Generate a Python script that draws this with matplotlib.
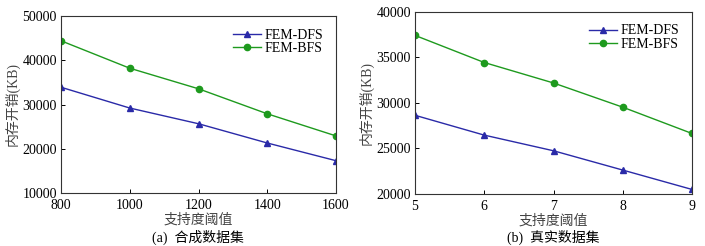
import matplotlib
matplotlib.use('Agg')
import matplotlib.pyplot as plt

# Données
x_a = [800, 1000, 1200, 1400, 1600]
dfs_a = [33900, 29200, 25650, 21300, 17300]
bfs_a = [44400, 38200, 33550, 27900, 22900]

x_b = [5, 6, 7, 8, 9]
dfs_b = [28650, 26470, 24750, 22630, 20500]
bfs_b = [37430, 34450, 32200, 29540, 26650]

fam = ['Liberation Serif', 'Noto Sans CJK SC']
plt.rcParams['font.family'] = fam
plt.rcParams['font.size'] = 10

blue = '#2a2aa8'
green = '#1e9a1e'

fig = plt.figure(figsize=(7.05, 2.46), dpi=100)
ax1 = fig.add_axes([61/705, 53/246, 275/705, 177/246])
ax2 = fig.add_axes([415/705, 52/246, 277/705, 182/246])

def draw(ax, x, dfs, bfs, ylim, yticks, caption, cx):
    ax.plot(x, dfs, color=blue, marker='^', markersize=4.5, linewidth=1, label='FEM-DFS')
    ax.plot(x, bfs, color=green, marker='o', markersize=4.5, linewidth=1, label='FEM-BFS')
    ax.set_xlim(x[0], x[-1])
    ax.set_xticks(x)
    ax.set_ylim(*ylim)
    ax.set_yticks(yticks)
    ax.tick_params(direction='in', length=3, width=0.7, labelsize=10)
    ax.tick_params(axis='x', pad=4)
    ax.tick_params(axis='y', pad=3)
    for s in ax.spines.values():
        s.set_linewidth(0.8)
        s.set_color('#333333')
    ax.set_ylabel('内存开销(KB)', fontsize=10, color='#444444', labelpad=2)
    ax.set_xlabel('支持度阈值', fontsize=10, color='#444444', labelpad=1)
    ax.legend(loc='upper right', frameon=False, fontsize=10, handlelength=2,
              handletextpad=0.3, labelspacing=0.05, borderaxespad=0.5)
    fig.text(cx, 9/246, caption, ha='center', va='center', fontsize=10)

draw(ax1, x_a, dfs_a, bfs_a, (10000, 50000), [10000, 20000, 30000, 40000, 50000],
     '(a)  合成数据集', 198/705)
draw(ax2, x_b, dfs_b, bfs_b, (20000, 40000), [20000, 25000, 30000, 35000, 40000],
     '(b)  真实数据集', 553/705)

fig.savefig('out.png', dpi=100)
